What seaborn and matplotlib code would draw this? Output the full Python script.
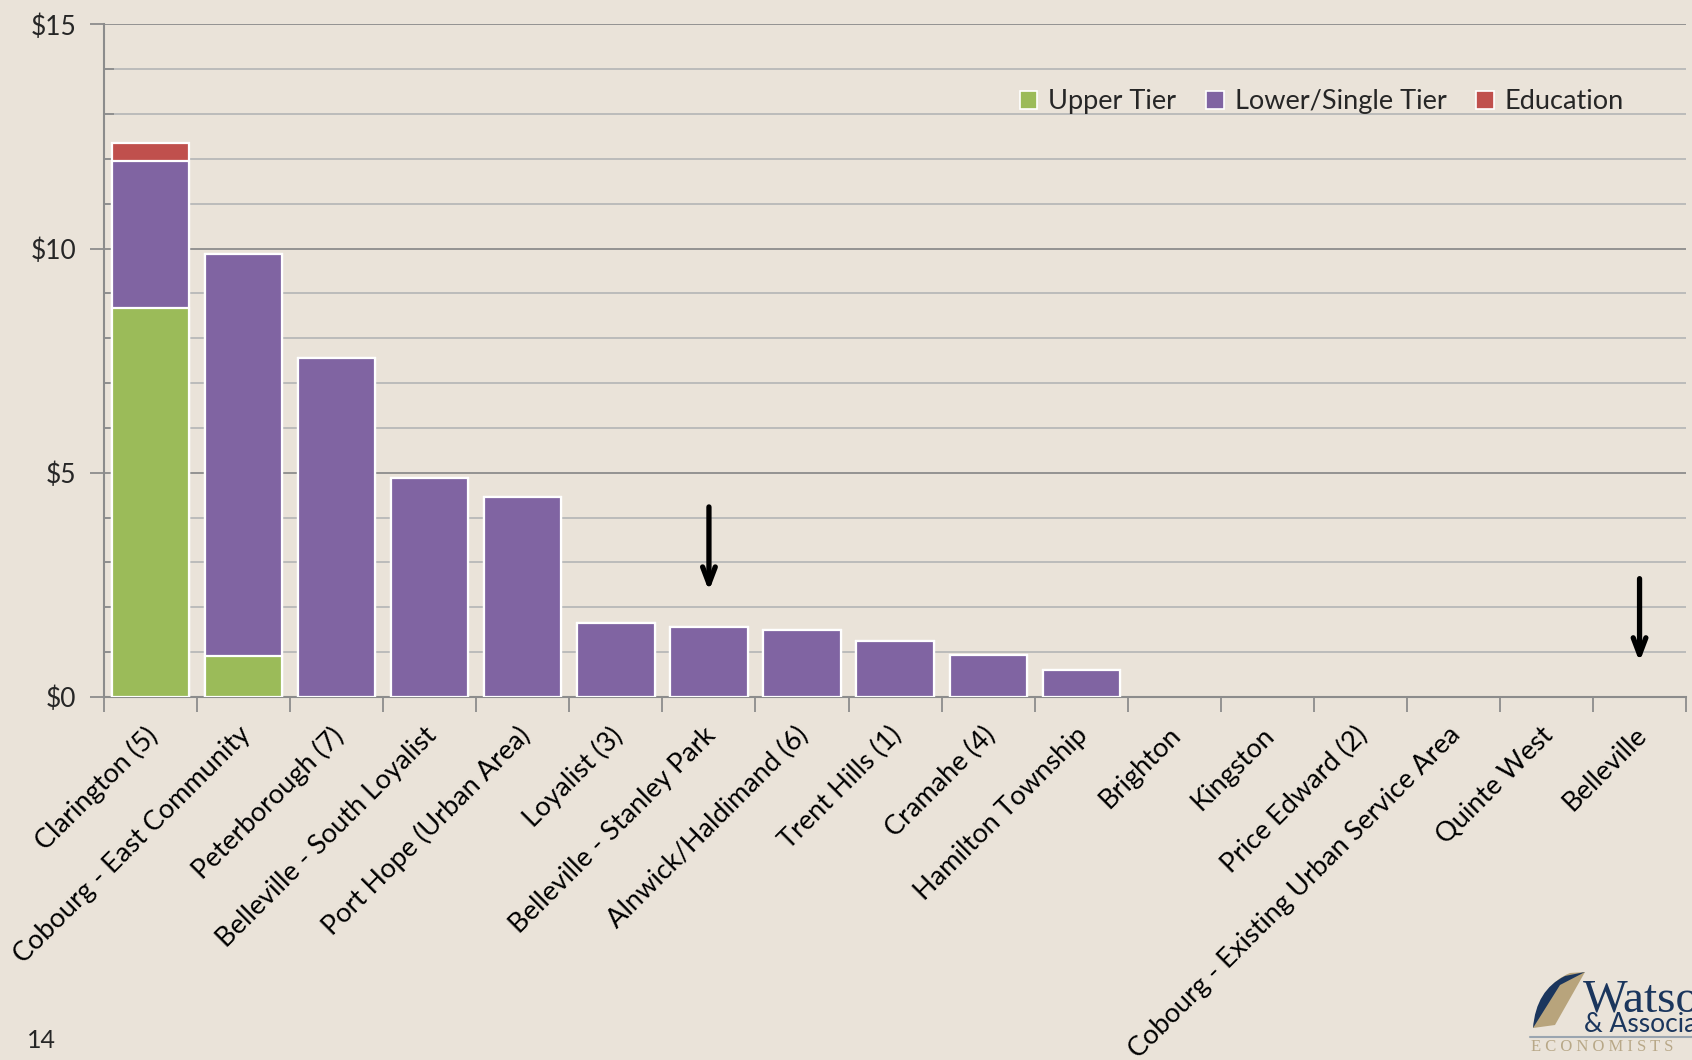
import matplotlib
matplotlib.use("Agg")
import matplotlib.pyplot as plt
import matplotlib.patches as mpatches
from matplotlib.path import Path
from matplotlib.ticker import MultipleLocator, FuncFormatter
from matplotlib.transforms import ScaledTranslation
import seaborn as sns
import pandas as pd
import numpy as np

categories = ["Clarington (5)", "Cobourg - East Community", "Peterborough (7)",
              "Belleville - South Loyalist", "Port Hope (Urban Area)", "Loyalist (3)",
              "Belleville - Stanley Park", "Alnwick/Haldimand (6)", "Trent Hills (1)",
              "Cramahe (4)", "Hamilton Township", "Brighton", "Kingston",
              "Price Edward (2)", "Cobourg - Existing Urban Service Area",
              "Quinte West", "Belleville"]
upper_tier = [8.68, 0.91, 0, 0, 0, 0, 0, 0, 0, 0, 0, 0, 0, 0, 0, 0, 0]
lower_tier = [3.27, 8.97, 7.55, 4.88, 4.47, 1.66, 1.56, 1.49, 1.25, 0.94, 0.60,
              0, 0, 0, 0, 0, 0]
education = [0.41, 0, 0, 0, 0, 0, 0, 0, 0, 0, 0, 0, 0, 0, 0, 0, 0]
series_names = ["Upper Tier", "Lower/Single Tier", "Education"]
colors = ["#9BBB59", "#8064A2", "#C0504D"]
arrow_targets = ["Belleville - Stanley Park", "Belleville"]
arrow_from = [4.3, 2.7]
arrow_to = [2.3, 0.72]

BG = "#EAE3D9"
sns.set_theme(style="white")
plt.rcParams["font.family"] = ["Lato", "DejaVu Sans"]

df = pd.DataFrame({"cat": categories, "up": upper_tier, "low": lower_tier, "edu": education})
df["s1"] = df["up"]
df["s2"] = df["up"] + df["low"]
df["s3"] = df["s2"] + df["edu"]

fig = plt.figure(figsize=(16.92, 10.6), dpi=100, facecolor=BG)
ax = fig.add_axes([0.0615, 0.3425, 0.935, 0.6345])
ax.set_facecolor(BG)

for col, c in zip(["s3", "s2", "s1"], colors[::-1]):
    sub = df[df[col] > 0]
    sns.barplot(data=sub, x="cat", y=col, order=categories, color=c, width=0.83,
                edgecolor="white", linewidth=1.6, saturation=1, ax=ax, zorder=3)

ax.set_ylim(0, 15)
ax.set_xlim(-0.5, len(categories) - 0.5)
ax.yaxis.set_major_locator(MultipleLocator(5))
ax.yaxis.set_minor_locator(MultipleLocator(1))
ax.yaxis.set_major_formatter(FuncFormatter(lambda v, p: f"${v:.0f}"))
ax.grid(which="major", axis="y", color="#8C8C8C", linewidth=1.3, zorder=0)
ax.grid(which="minor", axis="y", color="#B8B8B8", linewidth=1.3, zorder=0)
ax.set_axisbelow(True)
ax.set_xlabel("")
ax.set_ylabel("")
for s in ["top", "right"]:
    ax.spines[s].set_visible(False)
for s in ["left", "bottom"]:
    ax.spines[s].set_color("#8C8C8C")
    ax.spines[s].set_linewidth(1.5)

ax.tick_params(axis="y", which="major", direction="out", length=10, width=1.3,
               color="#8C8C8C", labelsize=19, pad=10, left=True)
ax.tick_params(axis="y", which="minor", direction="in", length=7, width=1.3,
               color="#8C8C8C", left=True)
ax.set_xticks(np.arange(len(categories)))
ax.set_xticks(np.arange(len(categories) + 1) - 0.5, minor=True)
ax.tick_params(axis="x", which="major", length=0, pad=6)
ax.tick_params(axis="x", which="minor", direction="out", length=11, width=1.3,
               color="#8C8C8C", bottom=True)
ax.set_xticklabels(categories, rotation=45, ha="right", rotation_mode="anchor",
                   fontsize=19.5, color="black")
off = ScaledTranslation(-0.06, -0.17, fig.dpi_scale_trans)
for lab in ax.get_xticklabels():
    lab.set_transform(lab.get_transform() + off)

# arrows
for name, y0, y1 in zip(arrow_targets, arrow_from, arrow_to):
    xi = categories.index(name)
    ax.annotate("", xy=(xi, y1), xytext=(xi, y0),
                arrowprops=dict(arrowstyle="->,head_length=1.0,head_width=0.38",
                                color="black", lw=3.8), zorder=5)

handles = [mpatches.Patch(facecolor=c, edgecolor="white", linewidth=1.2) for c in colors]
ax.legend(handles, series_names, loc="upper right", bbox_to_anchor=(0.976, 0.94),
          ncol=3, frameon=False, fontsize=19.5, handlelength=0.65, handleheight=0.65,
          handletextpad=0.4, columnspacing=1.1)

fig.text(27 / 1692, 1 - 1040 / 1060, "14", fontsize=18, va="center", ha="left")

# logo approximation
fig.text(1583 / 1692, 1 - 1000 / 1060, "Watson", fontsize=34, color="#1B365D",
         family="Liberation Serif", va="center", ha="left")
fig.text(1584 / 1692, 1 - 1024 / 1060, "& Associates", fontsize=19, color="#1B365D",
         va="center", ha="left")
fig.text(1531 / 1692, 1 - 1047 / 1060, "E C O N O M I S T S", fontsize=12,
         color="#B8A888", family="Liberation Serif", va="center", ha="left")
fig.add_artist(plt.Line2D([1530 / 1692, 1], [1 - 1037 / 1060] * 2, color="#9AA5B0",
                          lw=1.5, transform=fig.transFigure))
verts = [(1533, 1028), (1540, 985), (1570, 973), (1585, 972), (1572, 995), (1555, 1025), (1533, 1028)]
codes = [Path.MOVETO, Path.CURVE3, Path.CURVE3, Path.LINETO, Path.CURVE3, Path.CURVE3, Path.CLOSEPOLY]
pv = [(x / 1692, 1 - y / 1060) for x, y in verts]
fig.add_artist(mpatches.PathPatch(Path(pv, codes), facecolor="#B8A47C", edgecolor="none",
                                  transform=fig.transFigure))
verts2 = [(1533, 1028), (1536, 990), (1565, 976), (1585, 972), (1560, 985), (1533, 1028)]
codes2 = [Path.MOVETO, Path.CURVE3, Path.CURVE3, Path.LINETO, Path.LINETO, Path.CLOSEPOLY]
pv2 = [(x / 1692, 1 - y / 1060) for x, y in verts2]
fig.add_artist(mpatches.PathPatch(Path(pv2, codes2), facecolor="#1B365D", edgecolor="none",
                                  transform=fig.transFigure))

fig.savefig("out.png", dpi=100, facecolor=BG)
